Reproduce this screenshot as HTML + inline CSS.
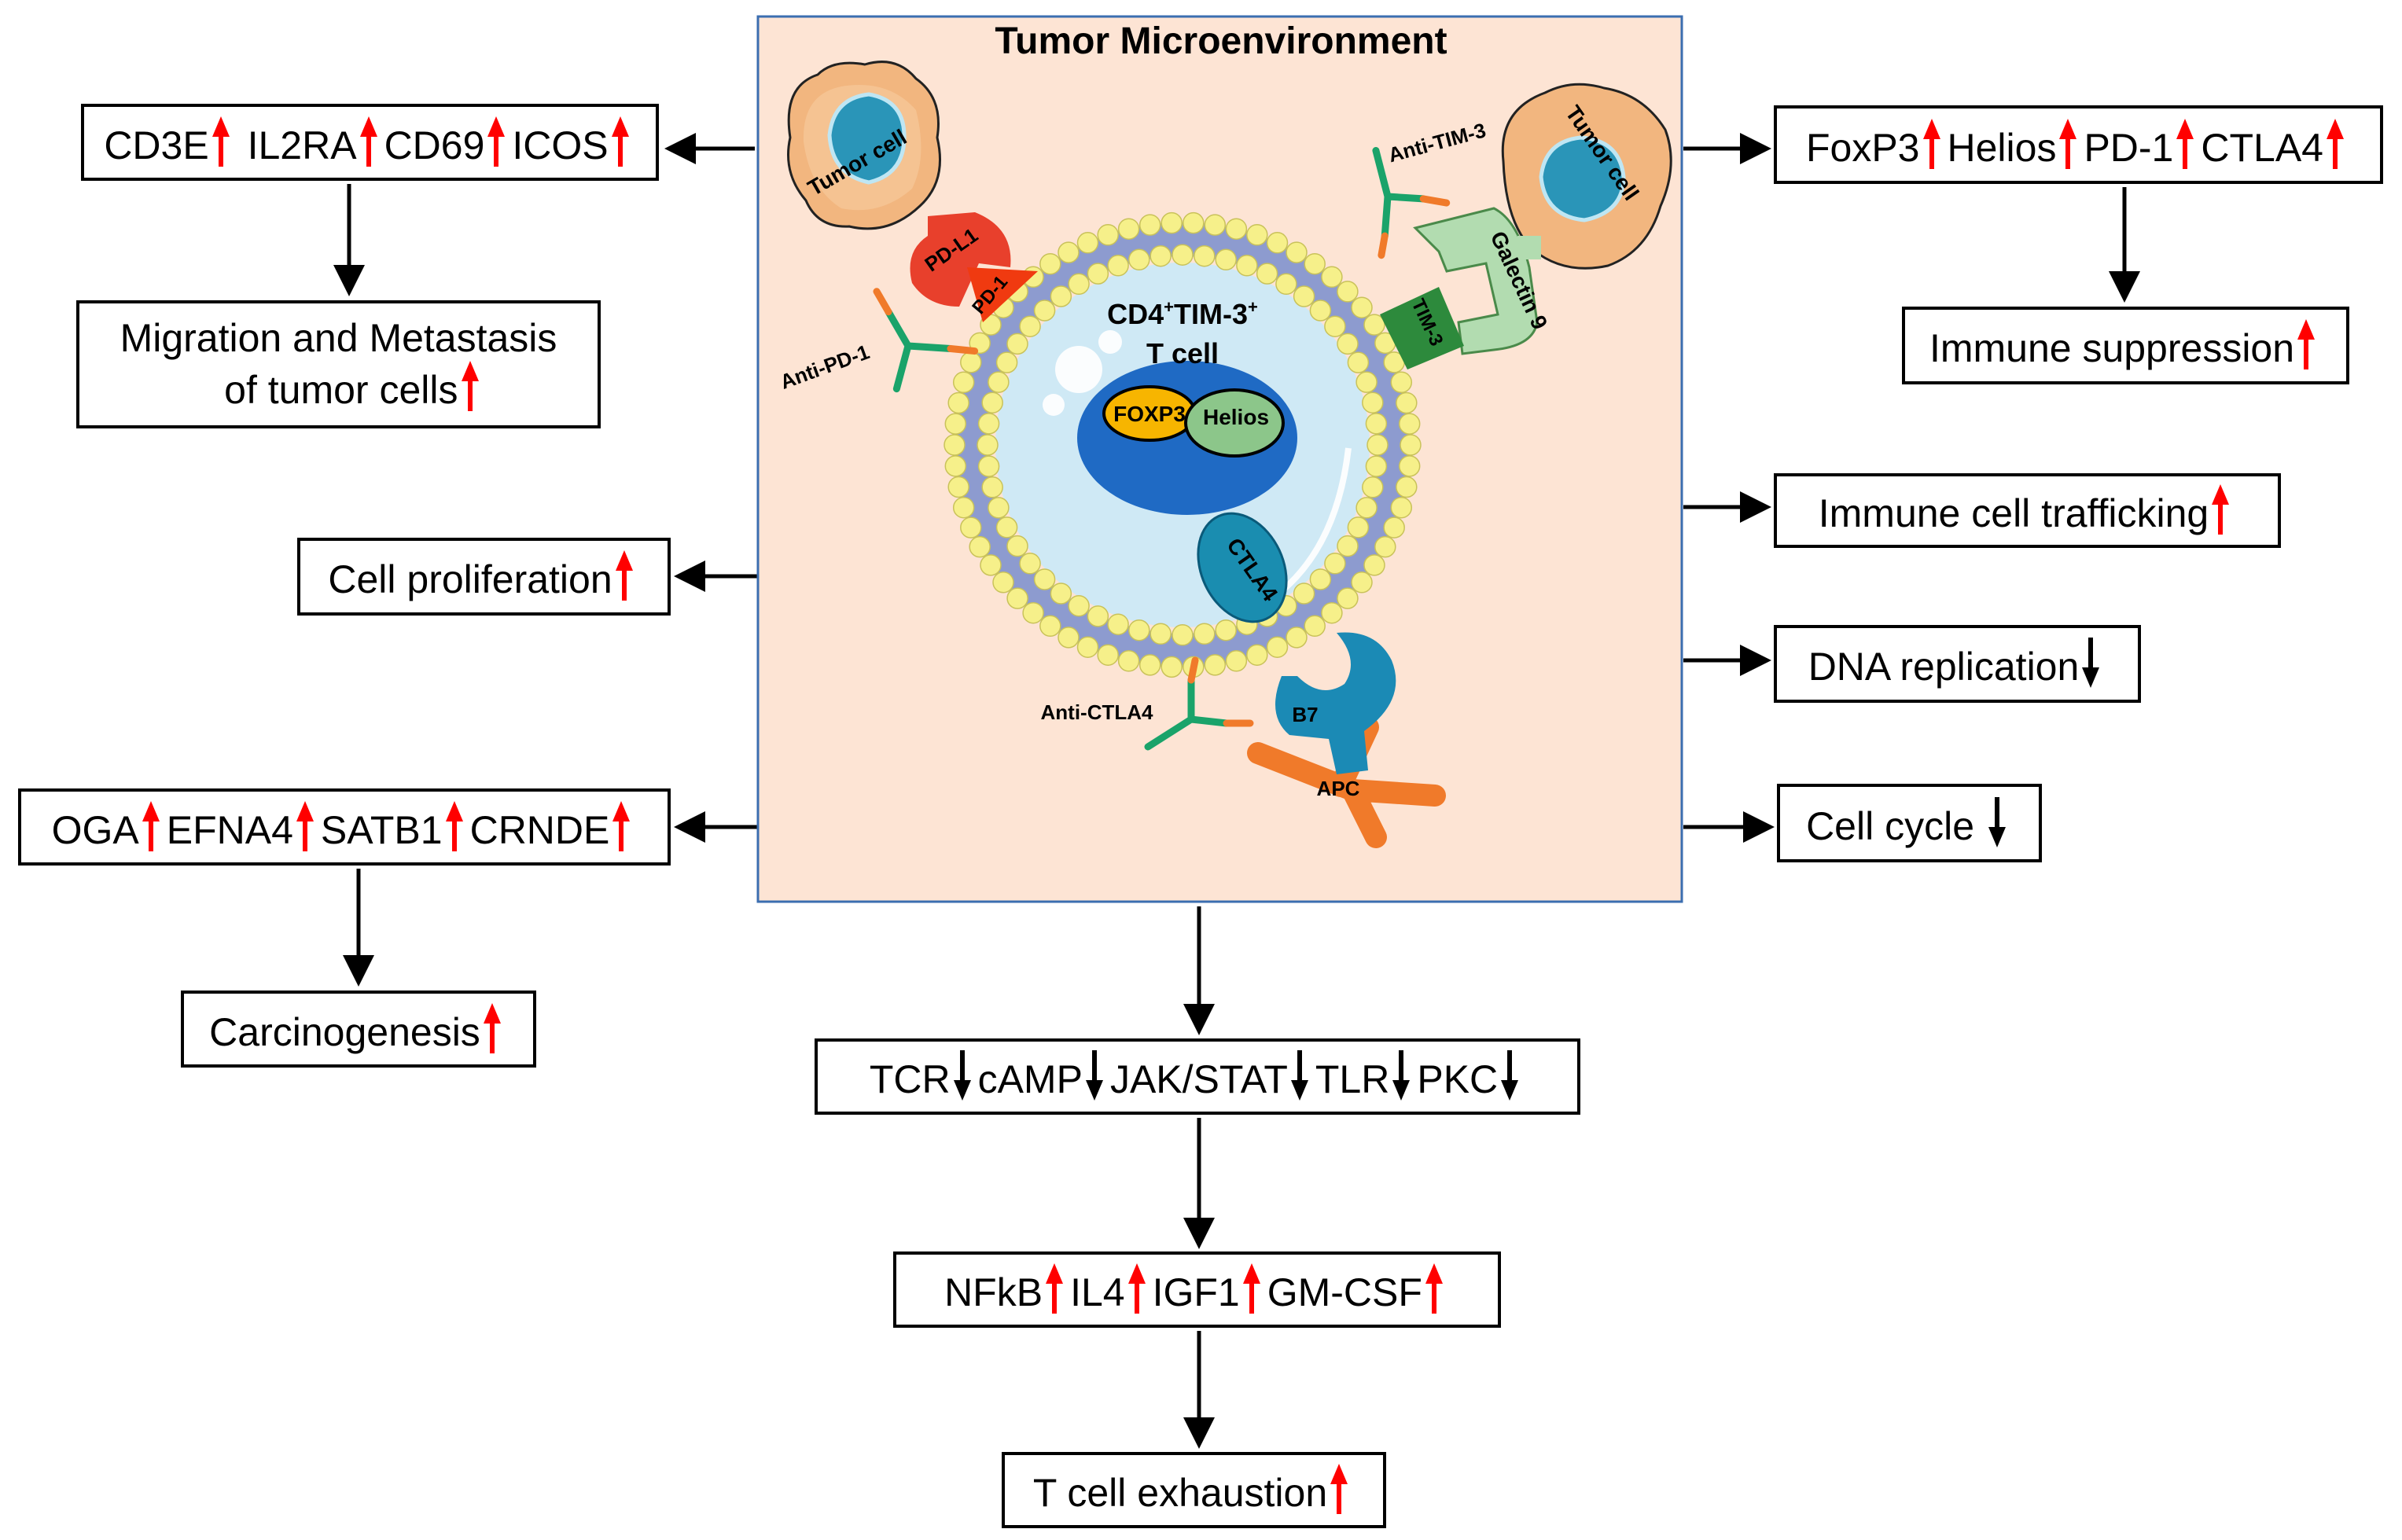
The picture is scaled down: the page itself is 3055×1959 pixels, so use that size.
<!DOCTYPE html>
<html><head><meta charset="utf-8">
<style>
html,body{margin:0;padding:0;background:#fff;}
#w{position:relative;width:3055px;height:1959px;overflow:hidden;font-family:"Liberation Sans Narrow","Liberation Sans",Arial,sans-serif;}
.b{position:absolute;box-sizing:border-box;border:4px solid #000;background:#fff;display:flex;align-items:center;justify-content:center;font-size:50px;color:#000;white-space:nowrap;line-height:1.15;text-align:center;}
.u,.d{display:inline-block;width:24px;height:64px;vertical-align:-10px;margin:0 8px 0 3px;}
</style></head><body><div id="w">
<svg width="0" height="0" style="position:absolute">
<defs>
<symbol id="up" viewBox="0 0 24 64"><polygon points="12,0 23,26 15,26 15,64 9,64 9,26 1,26" fill="#f00"/></symbol>
<symbol id="dn" viewBox="0 0 24 64"><polygon points="12,64 23,38 15,38 15,0 9,0 9,38 1,38" fill="#000"/></symbol>
<marker id="ah" markerWidth="8" markerHeight="8" refX="7" refY="4" orient="auto" markerUnits="strokeWidth"><polygon points="0,0 8,4 0,8" fill="#000"/></marker>
</defs></svg>

<svg width="3055" height="1959" style="position:absolute;left:0;top:0">
<g stroke="#000" stroke-width="5" fill="none">
<line x1="960" y1="189" x2="850" y2="189" marker-end="url(#ah)"/>
<line x1="444" y1="234" x2="444" y2="372" marker-end="url(#ah)"/>
<line x1="964" y1="733" x2="862" y2="733" marker-end="url(#ah)"/>
<line x1="964" y1="1052" x2="862" y2="1052" marker-end="url(#ah)"/>
<line x1="456" y1="1105" x2="456" y2="1250" marker-end="url(#ah)"/>
<line x1="2141" y1="189" x2="2248" y2="189" marker-end="url(#ah)"/>
<line x1="2702" y1="238" x2="2702" y2="380" marker-end="url(#ah)"/>
<line x1="2141" y1="645" x2="2248" y2="645" marker-end="url(#ah)"/>
<line x1="2141" y1="840" x2="2248" y2="840" marker-end="url(#ah)"/>
<line x1="2141" y1="1052" x2="2252" y2="1052" marker-end="url(#ah)"/>
<line x1="1525" y1="1153" x2="1525" y2="1312" marker-end="url(#ah)"/>
<line x1="1525" y1="1422" x2="1525" y2="1584" marker-end="url(#ah)"/>
<line x1="1525" y1="1693" x2="1525" y2="1838" marker-end="url(#ah)"/>
</g></svg>

<svg width="3055" height="1959" style="position:absolute;left:0;top:0">
<rect x="964" y="21" width="1175" height="1126" fill="#fde4d4" stroke="#3b6eb0" stroke-width="3"/>
<text x="1553" y="68" font-family="Liberation Sans" font-weight="bold" font-size="48" text-anchor="middle">Tumor Microenvironment</text>
<ellipse cx="1504" cy="566" rx="290" ry="283" fill="#8d9bcf"/>
<ellipse cx="1504" cy="566" rx="246" ry="240" fill="#fde4d4"/>
<ellipse cx="1504" cy="566" rx="238" ry="232" fill="#cfe9f5"/>
<g id="dots"></g>
<circle cx="1372" cy="470" r="30" fill="#fff" opacity=".9"/>
<circle cx="1412" cy="435" r="15" fill="#fff" opacity=".9"/>
<circle cx="1340" cy="515" r="14" fill="#fff" opacity=".9"/>
<path d="M1715,570 Q1700,700 1620,760" stroke="#fff" stroke-width="8" fill="none" opacity=".9"/>
<ellipse cx="1510" cy="557" rx="140" ry="98" fill="#1f6ac4"/>
<ellipse cx="1462" cy="526" rx="58" ry="34" fill="#f7b500" stroke="#000" stroke-width="4"/>
<ellipse cx="1570" cy="538" rx="62" ry="42" fill="#8cc68a" stroke="#000" stroke-width="4"/>
<text x="1462" y="536" font-family="Liberation Sans" font-weight="bold" font-size="28" text-anchor="middle">FOXP3</text>
<text x="1572" y="540" font-family="Liberation Sans" font-weight="bold" font-size="28" text-anchor="middle">Helios</text>
<text x="1504" y="412" font-family="Liberation Sans" font-weight="bold" font-size="36" text-anchor="middle">CD4<tspan font-size="22" dy="-14">+</tspan><tspan dy="14">TIM-3</tspan><tspan font-size="22" dy="-14">+</tspan></text>
<text x="1504" y="462" font-family="Liberation Sans" font-weight="bold" font-size="36" text-anchor="middle">T cell</text>
<!-- left tumor cell -->
<path d="M1005,175 Q995,110 1040,95 Q1060,75 1100,82 Q1140,70 1165,100 Q1200,125 1192,175 Q1205,230 1170,262 Q1130,300 1080,288 Q1040,290 1025,255 Q995,220 1005,175Z" fill="#f2b67f" stroke="#222" stroke-width="3"/>
<path d="M1022,180 Q1020,120 1070,110 Q1130,100 1165,140 Q1180,200 1160,240 Q1120,275 1070,265 Q1030,240 1022,180Z" fill="#f7c99a" opacity=".7"/>
<path d="M1055,172 Q1060,125 1105,120 Q1152,128 1150,178 Q1148,222 1105,232 Q1058,222 1055,172Z" fill="#2a95b8" stroke="#bfe6f3" stroke-width="5"/>
<text x="1095" y="215" font-family="Liberation Sans" font-weight="bold" font-size="28" transform="rotate(-30 1095 215)" text-anchor="middle">Tumor cell</text>
<!-- PD-L1 -->
<path d="M1180,275 L1240,270 Q1290,290 1285,340 L1245,335 L1220,390 Q1180,390 1160,360 Q1150,320 1180,300Z" fill="#e8402c"/>
<text x="1215" y="325" font-family="Liberation Sans" font-weight="bold" font-size="26" transform="rotate(-35 1215 325)" text-anchor="middle">PD-L1</text>
<polygon points="1230,340 1320,345 1250,410" fill="#f03a10"/>
<text x="1265" y="380" font-family="Liberation Sans" font-weight="bold" font-size="24" transform="rotate(-50 1265 380)" text-anchor="middle">PD-1</text>
<!-- right tumor cell -->
<path d="M1912,205 Q1905,140 1965,118 Q2000,100 2040,112 Q2090,120 2118,165 Q2135,210 2112,262 Q2095,320 2045,338 Q1990,350 1950,318 Q1915,285 1912,205Z" fill="#f2b67f" stroke="#222" stroke-width="3"/>
<path d="M1960,225 Q1965,180 2010,175 Q2060,178 2065,225 Q2065,270 2015,280 Q1965,275 1960,225Z" fill="#2a95b8" stroke="#bfe6f3" stroke-width="5"/>
<text x="2030" y="200" font-family="Liberation Sans" font-weight="bold" font-size="28" transform="rotate(55 2030 200)" text-anchor="middle">Tumor cell</text>
<!-- Galectin 9 / TIM-3 -->
<path d="M1800,290 L1900,265 Q1930,280 1945,340 L1955,410 Q1950,440 1900,445 L1860,450 L1855,410 L1905,400 L1890,335 L1840,345 L1830,320Z" fill="#b2dcb0" stroke="#4a8a4a" stroke-width="3"/>
<rect x="1930" y="300" width="30" height="30" fill="#b2dcb0"/>
<text x="1895" y="300" font-family="Liberation Sans" font-weight="bold" font-size="28" transform="rotate(65 1895 300)">Galectin 9</text>
<polygon points="1755,400 1830,365 1862,440 1790,470" fill="#2d8a3c"/>
<text x="1795" y="385" font-family="Liberation Sans" font-weight="bold" font-size="24" transform="rotate(65 1795 385)">TIM-3</text>
<!-- APC / B7 / CTLA4 -->
<path d="M1600,958 L1720,1005 L1750,1065 M1720,1005 L1825,1012 M1705,1000 L1740,925" stroke="#f07a2a" stroke-width="28" fill="none" stroke-linecap="round"/>
<path d="M1630,860 Q1610,910 1640,935 L1690,940 L1700,985 L1740,980 L1735,930 Q1790,890 1770,840 Q1750,800 1700,805 Q1730,840 1710,870 Q1680,890 1650,860Z" fill="#1b8ab5"/>
<ellipse cx="1580" cy="722" rx="52" ry="72" fill="#1a8db0" stroke="#0a5a7a" stroke-width="3" transform="rotate(-25 1580 722)"/>
<text x="1585" y="730" font-family="Liberation Sans" font-weight="bold" font-size="28" transform="rotate(55 1585 730)" text-anchor="middle">CTLA4</text>
<text x="1660" y="918" font-family="Liberation Sans" font-weight="bold" font-size="26" text-anchor="middle">B7</text>
<text x="1702" y="1012" font-family="Liberation Sans" font-weight="bold" font-size="26" text-anchor="middle">APC</text>
<!-- antibodies -->
<g stroke-width="9" fill="none" stroke-linecap="round">
<g transform="translate(1155,440) rotate(-30)"><path d="M0,0 L0,-50 M0,0 L-40,40 M0,0 L45,30" stroke="#1aa36a"/><path d="M0,-50 L0,-80 M45,30 L70,48" stroke="#f07a2a"/></g>
<g transform="translate(1765,250) rotate(10)"><path d="M0,0 L-25,-55 M0,0 L45,-5 M0,0 L5,50" stroke="#1aa36a"/><path d="M45,-5 L75,-5 M5,50 L5,75" stroke="#f07a2a"/></g>
<g transform="translate(1515,915)"><path d="M0,0 L0,-50 M0,0 L-55,35 M0,0 L45,5" stroke="#1aa36a"/><path d="M0,-50 L5,-75 M45,5 L75,5" stroke="#f07a2a"/></g>
</g>
<text x="1052" y="475" font-family="Liberation Sans" font-weight="bold" font-size="26" transform="rotate(-20 1052 475)" text-anchor="middle">Anti-PD-1</text>
<text x="1830" y="190" font-family="Liberation Sans" font-weight="bold" font-size="26" transform="rotate(-15 1830 190)" text-anchor="middle">Anti-TIM-3</text>
<text x="1395" y="915" font-family="Liberation Sans" font-weight="bold" font-size="26" text-anchor="middle">Anti-CTLA4</text>
</svg>

<div class="b" style="left:103px;top:132px;width:735px;height:98px"><span>CD3E<svg class="u"><use href="#up"/></svg> IL2RA<svg class="u"><use href="#up"/></svg>CD69<svg class="u"><use href="#up"/></svg>ICOS<svg class="u"><use href="#up"/></svg></span></div>
<div class="b" style="left:97px;top:382px;width:667px;height:163px"><span>Migration and Metastasis<br>&nbsp;&nbsp;&nbsp;of tumor cells<svg class="u"><use href="#up"/></svg></span></div>
<div class="b" style="left:378px;top:684px;width:475px;height:99px"><span>Cell proliferation<svg class="u"><use href="#up"/></svg></span></div>
<div class="b" style="left:23px;top:1003px;width:830px;height:98px"><span>OGA<svg class="u"><use href="#up"/></svg>EFNA4<svg class="u"><use href="#up"/></svg>SATB1<svg class="u"><use href="#up"/></svg>CRNDE<svg class="u"><use href="#up"/></svg></span></div>
<div class="b" style="left:230px;top:1260px;width:452px;height:98px"><span>Carcinogenesis<svg class="u"><use href="#up"/></svg></span></div>
<div class="b" style="left:2256px;top:134px;width:775px;height:100px"><span>FoxP3<svg class="u"><use href="#up"/></svg>Helios<svg class="u"><use href="#up"/></svg>PD-1<svg class="u"><use href="#up"/></svg>CTLA4<svg class="u"><use href="#up"/></svg></span></div>
<div class="b" style="left:2419px;top:390px;width:569px;height:99px"><span>Immune suppression<svg class="u"><use href="#up"/></svg></span></div>
<div class="b" style="left:2256px;top:602px;width:645px;height:95px"><span>Immune cell trafficking<svg class="u"><use href="#up"/></svg></span></div>
<div class="b" style="left:2256px;top:795px;width:467px;height:99px"><span>DNA replication<svg class="d"><use href="#dn"/></svg></span></div>
<div class="b" style="left:2260px;top:997px;width:337px;height:100px"><span>Cell cycle <svg class="d"><use href="#dn"/></svg></span></div>
<div class="b" style="left:1036px;top:1321px;width:974px;height:97px"><span>TCR<svg class="d"><use href="#dn"/></svg>cAMP<svg class="d"><use href="#dn"/></svg>JAK/STAT<svg class="d"><use href="#dn"/></svg>TLR<svg class="d"><use href="#dn"/></svg>PKC<svg class="d"><use href="#dn"/></svg></span></div>
<div class="b" style="left:1136px;top:1592px;width:773px;height:97px"><span>NFkB<svg class="u"><use href="#up"/></svg>IL4<svg class="u"><use href="#up"/></svg>IGF1<svg class="u"><use href="#up"/></svg>GM-CSF<svg class="u"><use href="#up"/></svg></span></div>
<div class="b" style="left:1274px;top:1847px;width:489px;height:97px"><span>T cell exhaustion<svg class="u"><use href="#up"/></svg></span></div>
</div>
<script>
(function(){
var g=document.getElementById('dots'),s='';
function ring(r,n){for(var i=0;i<n;i++){var a=i/n*Math.PI*2;var x=1504+r*Math.cos(a),y=566+r*0.975*Math.sin(a);
s+='<circle cx="'+x.toFixed(1)+'" cy="'+y.toFixed(1)+'" r="13" fill="#f6f08a" stroke="#c9c25a" stroke-width="1.5"/>';}}
ring(290,66);ring(248,56);
g.innerHTML=s;
})();
</script>
</body></html>
